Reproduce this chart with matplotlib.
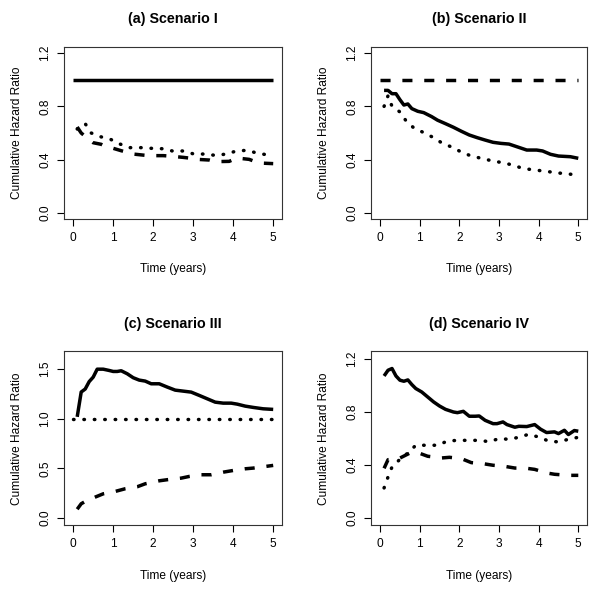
import matplotlib
matplotlib.use("Agg")
import matplotlib.pyplot as plt

plt.rcParams['font.family'] = ['Liberation Sans', 'DejaVu Sans']

# ---------------- data ----------------
titles = ["(a) Scenario I", "(b) Scenario II", "(c) Scenario III", "(d) Scenario IV"]

const_t = [0, 5]
const_v = [1, 1]

# (a)
a_dash_t = [0.1, 0.2, 0.3, 0.4, 0.5, 0.7, 0.8, 1.0, 1.2, 1.35, 1.5, 1.75, 1.9, 2.25, 2.4,
            2.75, 2.95, 3.1, 3.4, 3.55, 3.9, 4.0, 4.1, 4.4, 4.55, 4.7, 5.0]
a_dash_v = [0.645, 0.60, 0.575, 0.55, 0.527, 0.515, 0.50, 0.485, 0.467, 0.455, 0.442, 0.434,
            0.43, 0.43, 0.427, 0.417, 0.41, 0.402, 0.397, 0.385, 0.387, 0.40, 0.412, 0.402,
            0.385, 0.374, 0.37]
a_dot_t = [0.1, 0.2, 0.3, 0.45, 0.67, 0.93, 1.17, 1.42, 1.7, 1.95, 2.23, 2.48, 2.74, 3.02,
           3.28, 3.56, 3.83, 4.08, 4.35, 4.62, 4.88, 5.0]
a_dot_v = [0.63, 0.65, 0.67, 0.60, 0.573, 0.553, 0.517, 0.49, 0.49, 0.485, 0.482, 0.465,
           0.465, 0.442, 0.442, 0.432, 0.442, 0.465, 0.47, 0.447, 0.435, 0.435]

# (b)
b_sol_t = [0.1, 0.2, 0.3, 0.4, 0.5, 0.6, 0.7, 0.8, 0.95, 1.1, 1.3, 1.45, 1.65, 1.85, 2.05,
           2.25, 2.45, 2.65, 2.85, 3.05, 3.25, 3.45, 3.7, 3.95, 4.1, 4.3, 4.5, 4.8, 5.0]
b_sol_v = [0.92, 0.92, 0.895, 0.895, 0.85, 0.81, 0.818, 0.783, 0.763, 0.753, 0.723, 0.696,
           0.67, 0.643, 0.613, 0.585, 0.565, 0.547, 0.53, 0.522, 0.517, 0.497, 0.472, 0.472,
           0.465, 0.44, 0.427, 0.422, 0.41]
b_dot_t = [0.1, 0.2, 0.3, 0.5, 0.65, 0.85, 1.1, 1.35, 1.55, 1.8, 2.05, 2.3, 2.6, 2.85, 3.1,
           3.35, 3.6, 3.9, 4.15, 4.45, 4.7, 5.0]
b_dot_v = [0.80, 0.88, 0.80, 0.758, 0.693, 0.638, 0.603, 0.565, 0.527, 0.495, 0.457, 0.427,
           0.407, 0.389, 0.377, 0.359, 0.334, 0.322, 0.314, 0.301, 0.294, 0.284]

# (c)
c_sol_t = [0.1, 0.2, 0.3, 0.4, 0.5, 0.6, 0.75, 0.9, 1.0, 1.1, 1.2, 1.35, 1.5, 1.65, 1.8,
           1.95, 2.15, 2.35, 2.55, 2.75, 2.95, 3.15, 3.35, 3.55, 3.75, 3.95, 4.1, 4.3, 4.5,
           4.75, 5.0]
c_sol_v = [1.02, 1.27, 1.30, 1.375, 1.42, 1.50, 1.50, 1.487, 1.477, 1.477, 1.484, 1.454,
           1.414, 1.39, 1.38, 1.353, 1.353, 1.32, 1.289, 1.279, 1.269, 1.236, 1.202, 1.168,
           1.158, 1.158, 1.148, 1.128, 1.115, 1.101, 1.095]
c_dash_t = [0.1, 0.2, 0.3, 0.55, 0.75, 1.05, 1.3, 1.6, 1.8, 2.15, 2.35, 2.7, 2.9, 3.2, 3.45,
            3.75, 4.0, 4.3, 4.5, 5.0]
c_dash_v = [0.09, 0.145, 0.168, 0.212, 0.245, 0.269, 0.296, 0.316, 0.346, 0.376, 0.387,
            0.403, 0.42, 0.437, 0.437, 0.463, 0.48, 0.497, 0.504, 0.531]

# (d)
d_sol_t = [0.1, 0.2, 0.3, 0.4, 0.5, 0.6, 0.7, 0.8, 0.9, 1.05, 1.15, 1.35, 1.5, 1.65, 1.85,
           1.95, 2.1, 2.25, 2.4, 2.5, 2.65, 2.85, 2.95, 3.1, 3.2, 3.4, 3.5, 3.7, 3.9, 4.05,
           4.2, 4.4, 4.5, 4.65, 4.75, 4.9, 5.0]
d_sol_v = [1.072, 1.115, 1.128, 1.072, 1.04, 1.032, 1.042, 1.007, 0.977, 0.951, 0.926,
           0.876, 0.845, 0.82, 0.80, 0.795, 0.805, 0.768, 0.768, 0.77, 0.737, 0.712, 0.712,
           0.725, 0.705, 0.685, 0.692, 0.69, 0.705, 0.67, 0.645, 0.65, 0.637, 0.662, 0.63,
           0.66, 0.655]
d_dot_t = [0.1, 0.2, 0.3, 0.5, 0.7, 0.9, 1.15, 1.45, 1.7, 1.95, 2.25, 2.5, 2.75, 3.0, 3.25,
           3.5, 3.75, 4.0, 4.25, 4.5, 4.75, 5.0]
d_dot_v = [0.227, 0.31, 0.385, 0.443, 0.49, 0.549, 0.549, 0.549, 0.581, 0.586, 0.586, 0.586,
           0.576, 0.599, 0.594, 0.609, 0.632, 0.611, 0.581, 0.574, 0.594, 0.609]
d_dash_t = [0.1, 0.2, 0.45, 0.75, 0.9, 1.0, 1.2, 1.55, 1.75, 2.05, 2.3, 2.6, 2.85, 3.1, 3.4,
            3.65, 3.9, 4.2, 4.4, 4.75, 5.0]
d_dash_v = [0.375, 0.44, 0.445, 0.49, 0.495, 0.488, 0.466, 0.453, 0.458, 0.448, 0.418, 0.41,
            0.398, 0.392, 0.377, 0.377, 0.367, 0.34, 0.33, 0.322, 0.322]

x_ticks = [0, 1, 2, 3, 4, 5]
y_ticks_std = [0.0, 0.4, 0.8, 1.2]
y_ticks_c = [0.0, 0.5, 1.0, 1.5]

# ---------------- styles ----------------
LW = 2.5
SOLID = dict(color='black', lw=LW, linestyle='-', solid_capstyle='butt', solid_joinstyle='round')
DASH = dict(color='black', lw=LW, linestyle=(0, (2.9, 3.4)), dash_capstyle='butt')
DOT = dict(color='black', lw=LW, linestyle=(0, (0.15, 2.85)), dash_capstyle='round')

fig = plt.figure(figsize=(6.0, 5.92), dpi=100)
W, H = 600, 592

def make_ax(left, top, right, bottom):
    return fig.add_axes([left / W, 1 - bottom / H, (right - left) / W, (bottom - top) / H])

axes = [make_ax(64, 46.7, 282, 219.3), make_ax(371, 46.7, 587, 219.3),
        make_ax(64, 351.3, 282, 525.3), make_ax(371, 351.3, 587, 525.3)]

series = [
    [(const_t, const_v, SOLID), (a_dash_t, a_dash_v, DASH), (a_dot_t, a_dot_v, DOT)],
    [(b_sol_t, b_sol_v, SOLID), (const_t, const_v, DASH), (b_dot_t, b_dot_v, DOT)],
    [(c_sol_t, c_sol_v, SOLID), (c_dash_t, c_dash_v, DASH), (const_t, const_v, DOT)],
    [(d_sol_t, d_sol_v, SOLID), (d_dash_t, d_dash_v, DASH), (d_dot_t, d_dot_v, DOT)],
]
ylims = [(-0.048, 1.248), (-0.048, 1.248), (-0.072, 1.68), (-0.055, 1.258)]
yticks = [y_ticks_std, y_ticks_std, y_ticks_c, y_ticks_std]

FS = 8.6
for ax, ser, yl, yt, title in zip(axes, series, ylims, yticks, titles):
    for t, v, st in ser:
        ax.plot(t, v, **st)
    ax.set_xlim(-0.23, 5.22)
    ax.set_ylim(*yl)
    ax.set_xticks(x_ticks)
    ax.set_xticklabels([str(x) for x in x_ticks])
    ax.set_yticks(yt)
    ax.set_yticklabels([f"{y:.1f}" for y in yt], rotation=90, va='center')
    ax.tick_params(direction='out', length=5, width=0.8, labelsize=FS, color='black')
    ax.tick_params(axis='x', pad=4)
    ax.tick_params(axis='y', pad=4)
    for s in ax.spines.values():
        s.set_linewidth(0.8)
        s.set_color('#333333')
    ax.set_xlabel("Time (years)", fontsize=FS)
    ax.xaxis.set_label_coords(0.5, -0.255)
    ax.set_ylabel("Cumulative Hazard Ratio", fontsize=FS)
    ax.yaxis.set_label_coords(-0.19, 0.5)
    ax.text(0.5, 1.135, title, transform=ax.transAxes, ha='center', va='baseline',
            fontsize=10.3, fontweight='bold')

fig.savefig("out.png", dpi=100, facecolor='white')
